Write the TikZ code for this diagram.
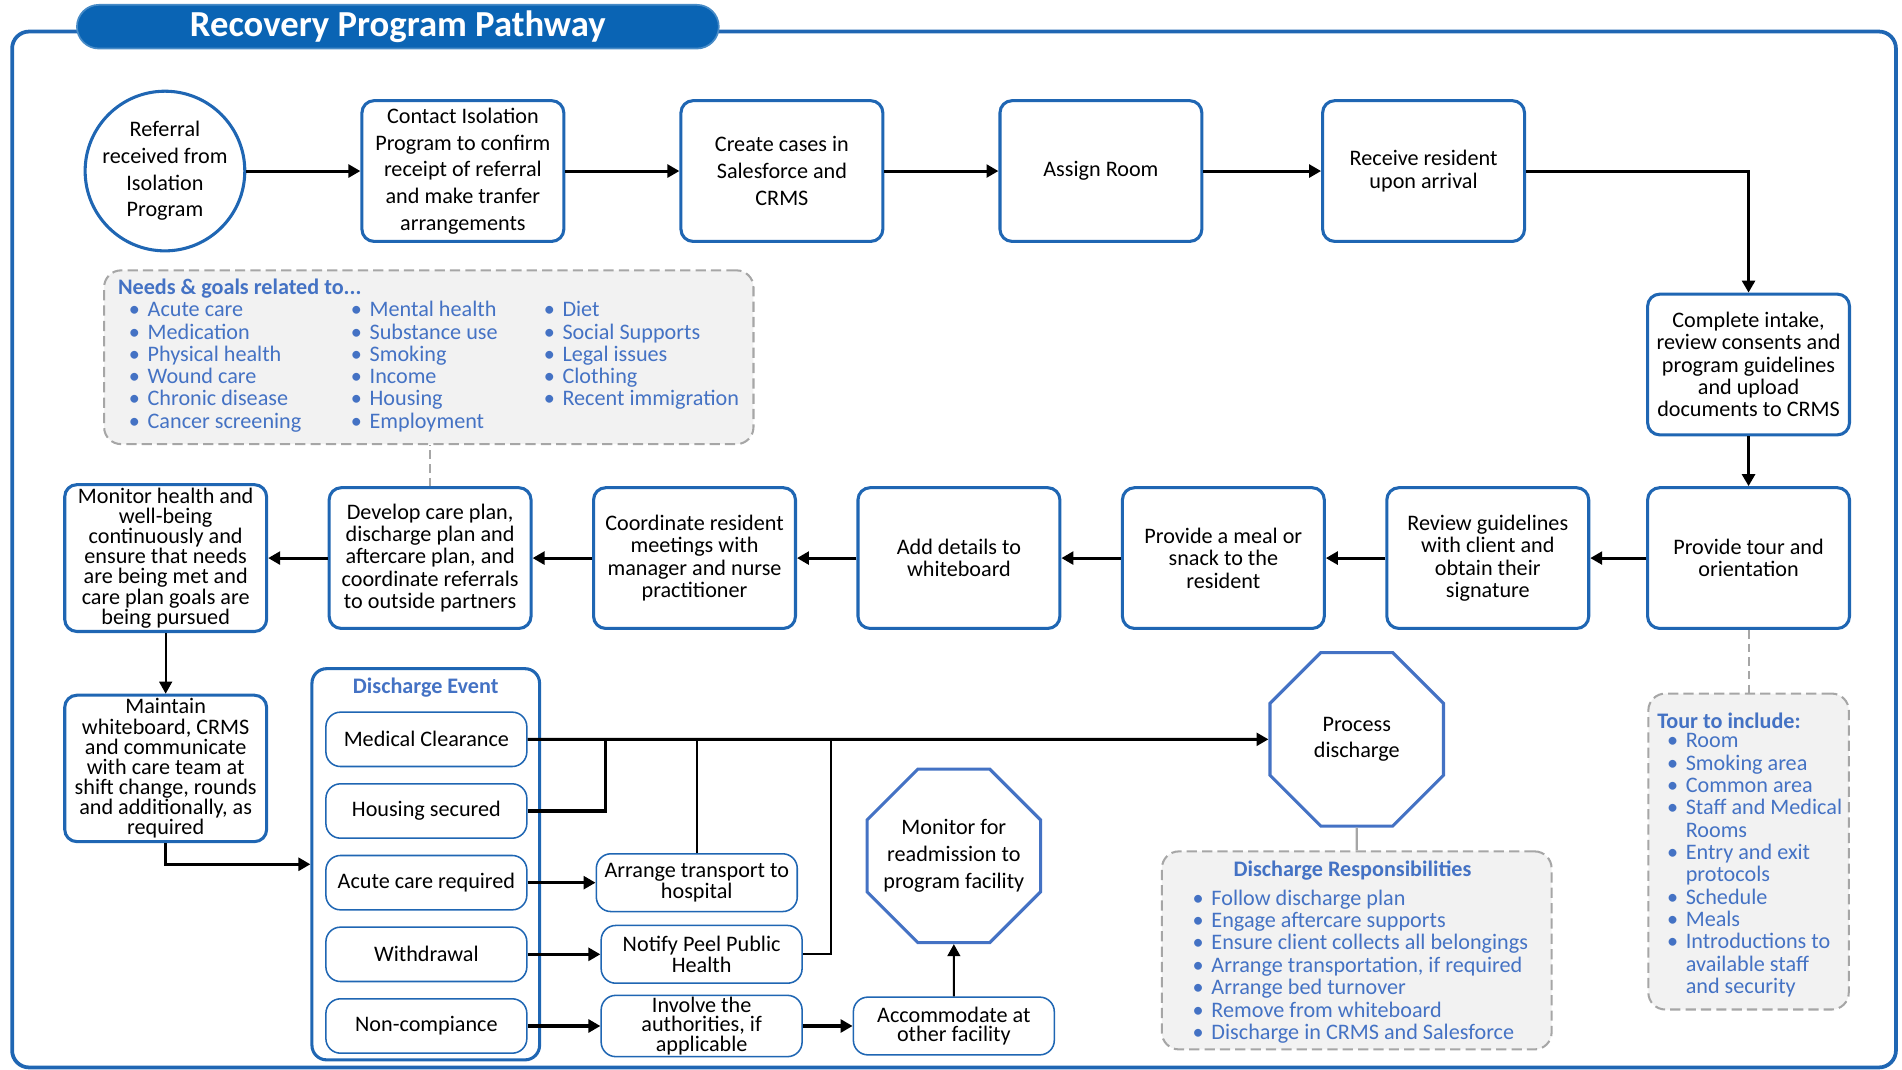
\documentclass[tikz,border=0pt]{standalone}
\usepackage{fontspec}
\setmainfont{Carlito}
\usepackage{tikz}
\usetikzlibrary{positioning, shapes.geometric, arrows.meta}

\definecolor{pathblue}{HTML}{1F66B3}
\definecolor{bannerblue}{HTML}{0A64B4}
\definecolor{listblue}{HTML}{4472C4}
\definecolor{notegray}{HTML}{A6A6A6}
\definecolor{notefill}{HTML}{F2F2F2}

\newcommand{\bul}{\makebox[11pt][l]{\textbullet}}
\newcommand{\cont}{\hspace*{11pt}}
\lineskiplimit=-20pt

\tikzset{
  stepbox/.style={draw=pathblue, line width=1.8pt, rounded corners=0.25cm, fill=white,
    minimum width=4.16cm, minimum height=2.9cm, align=center, inner sep=2pt,
    font=\fontsize{13}{13.1}\selectfont},
  widebox/.style={stepbox, font=\fontsize{13}{15.6}\selectfont},
  tightbox/.style={stepbox, font=\fontsize{13}{11.8}\selectfont},
  startnode/.style={widebox, circle, sharp corners, minimum size=3.29cm, inner sep=-8pt},
  eventbox/.style={draw=pathblue, line width=0.9pt, rounded corners=0.3cm, fill=white,
    minimum width=4.14cm, minimum height=1.12cm, align=center, inner sep=1pt,
    font=\fontsize{13}{12.8}\selectfont},
  actionbox/.style={eventbox, minimum height=1.19cm},
  stopsign/.style={regular polygon, regular polygon sides=8, minimum size=3.87cm,
    draw=listblue, line width=1.8pt, fill=white, align=center, inner xsep=-0.45cm, inner ysep=0pt,
    font=\fontsize{13}{15.6}\selectfont},
  notebox/.style={draw=notegray, fill=notefill, line width=1.2pt,
    dash pattern=on 6pt off 3pt, rounded corners=0.35cm},
  notetitle/.style={text=listblue, font=\fontsize{13}{13}\selectfont\bfseries, inner sep=0pt},
  noteitem/.style={text=listblue, font=\fontsize{13}{13}\selectfont, inner sep=0pt,
    anchor=west, text height=9pt, text depth=3.2pt},
  flow/.style={->, line width=1.8pt},
  thinflow/.style={->, line width=1.1pt},
  link/.style={draw=notegray, line width=1.2pt, dash pattern=on 5pt off 3pt},
}

\begin{document}
\begin{tikzpicture}[x=0.025cm, y=-0.025cm, >={Triangle[length=7pt,width=7.5pt]}, node distance=2.35cm]
\useasboundingbox (0,0) rectangle (1568,882);

% frame and title
\draw[pathblue, line width=2.2pt, rounded corners=0.35cm] (10,26) rectangle (1563,880);
\node[draw=bannerblue!75!white, fill=bannerblue, line width=1pt, rounded corners=0.45cm,
  minimum width=13.225cm, minimum height=0.9cm, text=white,
  font=\fontsize{21.5}{24}\selectfont\bfseries] (title) at (328,22) {Recovery Program Pathway};

% intake row
\node[startnode] (referral) at (136,141) {Referral\\received from\\Isolation\\Program};
\node[widebox] (contact) [right=of referral] {Contact Isolation\\Program to confirm\\receipt of referral\\and make tranfer\\arrangements};
\node[widebox] (cases) [right=of contact] {Create cases in\\Salesforce and\\CRMS};
\node[widebox] (room) [right=of cases] {Assign Room};
\node[stepbox] (arrival) [right=2.425cm of room] {Receive resident\\upon arrival};
\node[stepbox] (intake) at (1441.5,300.5) {Complete intake,\\review consents and\\program guidelines\\and upload\\documents to CRMS};

% stay row
\node[stepbox] (tour) [below=1.025cm of intake] {Provide tour and\\orientation};
\node[stepbox] (review) [left=1.15cm of tour] {Review guidelines\\with client and\\obtain their\\signature};
\node[stepbox] (meal) [left=1.225cm of review] {Provide a meal or\\snack to the\\resident};
\node[stepbox] (whiteboard) [left=1.225cm of meal] {Add details to\\whiteboard};
\node[stepbox] (meetings) [left=1.225cm of whiteboard] {Coordinate resident\\meetings with\\manager and nurse\\practitioner};
\node[stepbox] (careplan) [left=1.225cm of meetings] {Develop care plan,\\discharge plan and\\aftercare plan, and\\coordinate referrals\\to outside partners};
\node[tightbox] (monhealth) [left=1.225cm of careplan] {Monitor health and\\well-being\\continuously and\\ensure that needs\\are being met and\\care plan goals are\\being pursued};
\node[tightbox] (maintain) [below=1.25cm of monhealth] {Maintain\\whiteboard, CRMS\\and communicate\\with care team at\\shift change, rounds\\and additionally, as\\required};

% needs note
\node[notebox, minimum width=13.38cm, minimum height=3.58cm] (needs) at (353.5,294.5) {};
\node[notetitle, anchor=west] (needshead) at (97,238) {Needs \& goals related to...};
\foreach \txt [count=\i] in {Acute care, Medication, Physical health, Wound care, Chronic disease, Cancer screening}
  \node[noteitem] (needsa\i) at (106,{238.6+18.4*\i}) {\bul\txt};
\foreach \txt [count=\i] in {Mental health, Substance use, Smoking, Income, Housing, Employment}
  \node[noteitem] (needsb\i) at (289,{238.6+18.4*\i}) {\bul\txt};
\foreach \txt [count=\i] in {Diet, Social Supports, Legal issues, Clothing, Recent immigration}
  \node[noteitem] (needsc\i) at (448,{238.6+18.4*\i}) {\bul\txt};

% tour note
\node[notebox, minimum width=4.13cm, minimum height=6.51cm] (tournote) at (1441.5,702) {};
\node[notetitle, anchor=west] (tourhead) at (1366,594) {Tour to include:};
\foreach \txt [count=\i] in {\bul Room, \bul Smoking area, \bul Common area, \bul Staff and Medical, \cont Rooms,
    \bul Entry and exit, \cont protocols, \bul Schedule, \bul Meals, \bul Introductions to, \cont available staff, \cont and security}
  \node[noteitem] (touritem\i) at (1374,{594.1+18.4*\i}) {\txt};

% discharge event
\node[draw=pathblue, line width=1.8pt, rounded corners=0.3cm, minimum width=4.69cm, minimum height=8.06cm] (devent) at (351,712.5) {};
\node[notetitle] (deventhead) at (351,567) {Discharge Event};
\node[eventbox] (medical) at (351.5,609.5) {Medical Clearance};
\node[eventbox] (housing) [below=0.325cm of medical] {Housing secured};
\node[eventbox] (acute) [below=0.325cm of housing] {Acute care required};
\node[eventbox] (withdrawal) [below=0.325cm of acute] {Withdrawal};
\node[eventbox] (noncomp) [below=0.325cm of withdrawal] {Non-compiance};

\node[actionbox] (transport) [right=1.4cm of acute] {Arrange transport to\\hospital};
\node[actionbox] (peel) [right=1.5cm of withdrawal] {Notify Peel Public\\Health};
\node[actionbox, font=\fontsize{13}{11.4}\selectfont] (authorities) [right=1.5cm of noncomp] {Involve the\\authorities, if\\applicable};
\node[actionbox, font=\fontsize{13}{11.4}\selectfont] (otherfac) [right=1.025cm of authorities] {Accommodate at\\other facility};
\node[stopsign] (readmit) [above=1.075cm of otherfac] {Monitor for\\readmission to\\program facility};
\node[stopsign] (process) at (1118.5,609.5) {Process\\discharge};

% discharge responsibilities note
\node[notebox, minimum width=8.03cm, minimum height=4.08cm] (dresp) at (1118.5,783.5) {};
\node[notetitle] (dresphead) at (1115,718) {Discharge Responsibilities};
\foreach \txt [count=\i] in {Follow discharge plan, Engage aftercare supports, Ensure client collects all belongings,
    {Arrange transportation, if required}, Arrange bed turnover, Remove from whiteboard, Discharge in CRMS and Salesforce}
  \node[noteitem] (dritem\i) at (983,{723.5+18.5*\i}) {\bul\txt};

% connectors
\path
  (referral) edge[flow] (contact)
  (contact) edge[flow] (cases)
  (cases) edge[flow] (room)
  (room) edge[flow] (arrival)
  (intake) edge[flow] (tour)
  (tour) edge[flow] (review)
  (review) edge[flow] (meal)
  (meal) edge[flow] (whiteboard)
  (whiteboard) edge[flow] (meetings)
  (meetings) edge[flow] (careplan)
  (careplan) edge[flow] (monhealth)
  (monhealth) edge[thinflow] (maintain)
  (acute) edge[flow] (transport)
  (withdrawal) edge[flow] (peel)
  (noncomp) edge[flow] (authorities)
  (authorities) edge[flow] (otherfac)
  (otherfac) edge[thinflow] (readmit)
  (medical) edge[flow] (process);
\draw[flow] (arrival.east) -| (intake.north);
\draw[flow] (maintain.south) |- (devent.west);
\draw[flow, -] (housing.east) -| ([xshift=1.6cm]medical.east);
\path (peel.east) ++(0.575cm,0) coordinate (nturn);
\draw[thinflow, -] (transport.north) -- (transport.north |- medical.east);
\draw[thinflow, -] (peel.east) -| (nturn |- medical.east);

% note links
\draw[link] (careplan.north) -- (careplan.north |- needs.south);
\draw[link] (tour.south) -- (tournote.north);
\draw[link, solid] (process.south) -- (dresp.north);
\end{tikzpicture}
\end{document}
